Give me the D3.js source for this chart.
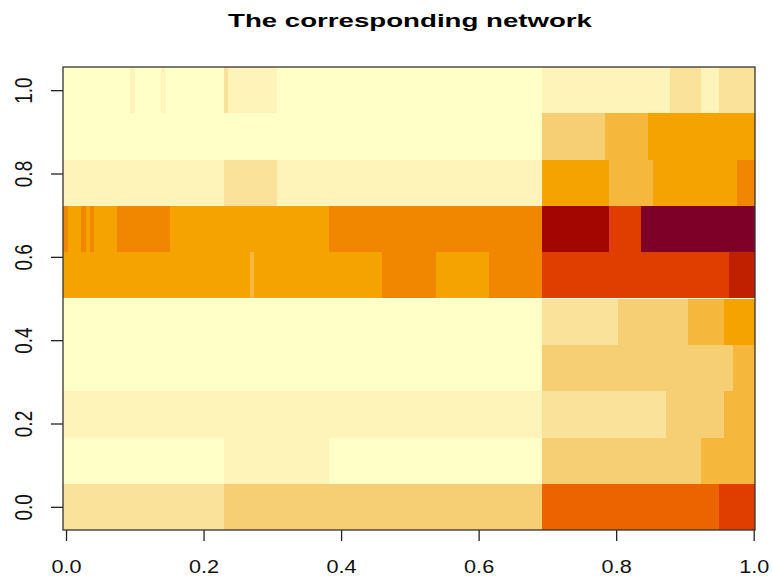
<!DOCTYPE html>
<html>
<head>
<meta charset="utf-8">
<script src="https://cdn.jsdelivr.net/npm/d3@7"></script>
<style>
  body { margin: 0; background: #fff; }
  svg { display: block; }
</style>
</head>
<body>
<div id="chart"></div>
<script>
// image() style heat map, 10 rows, cells given as runs along x

const title = "The corresponding network";

// palette levels, light -> dark
const palette = ["#FFFFC8", "#FEF3B8", "#FAE29A", "#F6CE73", "#F5B83D", "#F4A300",
                 "#F18600", "#EC6400", "#E03E00", "#C02000", "#A30500", "#7E0029"];

// row centres (bottom -> top)
const rowY = [0.000, 0.111, 0.222, 0.333, 0.444, 0.556, 0.667, 0.778, 0.889, 1.000];
const rowHalf = 0.0556;

// run boundaries along x for each row (bottom -> top)
const rowBreaks = [
    [-0.0044, 0.2298, 0.6926, 0.9496, 1.0019],
    [-0.0044, 0.2298, 0.3824, 0.6926, 0.9234, 1.0019],
    [-0.0044, 0.6926, 0.8725, 0.9568, 1.0019],
    [-0.0044, 0.6926, 0.9699, 1.0019],
    [-0.0044, 0.6926, 0.8027, 0.9045, 0.9568, 1.0019],
    [-0.0044, 0.2676, 0.2738, 0.4591, 0.5380, 0.6151, 0.6926, 0.9641, 1.0019],
    [-0.0044, 0.0025, 0.0218, 0.0291, 0.0349, 0.0407, 0.0737, 0.1512, 0.3824, 0.6926, 0.7896, 0.8357, 1.0019],
    [-0.0044, 0.2298, 0.3064, 0.6926, 0.7896, 0.8531, 0.9762, 1.0019],
    [-0.0044, 0.6926, 0.7833, 0.8467, 1.0019],
    [-0.0044, 0.0931, 0.1003, 0.1381, 0.1440, 0.2298, 0.2360, 0.3064, 0.6926, 0.8783, 0.9234, 0.9496, 1.0019]
];

// colour level of each run
const rowLevels = [
    [2, 3, 7, 8],
    [0, 1, 0, 3, 4],
    [1, 2, 3, 4],
    [0, 3, 4],
    [0, 2, 3, 4, 5],
    [5, 4, 5, 6, 5, 6, 8, 9],
    [6, 5, 6, 5, 6, 5, 6, 5, 6, 10, 8, 11],
    [1, 2, 1, 5, 4, 5, 6],
    [0, 3, 4, 5],
    [0, 1, 0, 1, 0, 2, 1, 0, 1, 2, 1, 2]
];

const xTicks = [0.0, 0.2, 0.4, 0.6, 0.8, 1.0];
const yTicks = [0.0, 0.2, 0.4, 0.6, 0.8, 1.0];

const w = 772;
const h = 578;
const plot = { left: 63, right: 755, top: 67, bottom: 530 };
const font = "'Liberation Sans', Arial, Helvetica, sans-serif";

const svg = d3.select("#chart").append("svg")
    .attr("width", w)
    .attr("height", h);

const x = d3.scaleLinear()
    .domain([rowBreaks[0][0], rowBreaks[0][rowBreaks[0].length - 1]])
    .range([plot.left, plot.right]);

const y = d3.scaleLinear()
    .domain([rowY[0] - rowHalf, rowY[rowY.length - 1] + rowHalf])
    .range([plot.bottom, plot.top]);

// flatten runs into cells
const cells = [];
rowBreaks.forEach((b, r) => {
    rowLevels[r].forEach((lev, i) => {
        cells.push({ x0: b[i], x1: b[i + 1], yc: rowY[r], level: lev });
    });
});

svg.append("g")
    .selectAll("rect")
    .data(cells)
    .enter()
    .append("rect")
    .attr("x", d => x(d.x0))
    .attr("y", d => y(d.yc + rowHalf))
    .attr("width", d => x(d.x1) - x(d.x0))
    .attr("height", d => y(d.yc - rowHalf) - y(d.yc + rowHalf))
    .attr("fill", d => palette[d.level])
    .attr("shape-rendering", "crispEdges");

// axes
const xAxis = d3.axisBottom(x)
    .tickValues(xTicks)
    .tickFormat(d3.format(".1f"))
    .tickSize(11)
    .tickSizeOuter(0);

const gx = svg.append("g")
    .attr("transform", `translate(0, ${plot.bottom})`)
    .call(xAxis);

gx.select(".domain").remove();
gx.selectAll(".tick line").attr("stroke", "#222").attr("stroke-width", 1.3);
gx.selectAll(".tick text")
    .attr("y", 43)
    .attr("dy", null)
    .attr("fill", "#111")
    .attr("transform", "scale(1.14, 1)")
    .style("font-family", font)
    .style("font-size", "19px");

const yAxis = d3.axisLeft(y)
    .tickValues(yTicks)
    .tickFormat(d3.format(".1f"))
    .tickSize(12)
    .tickSizeOuter(0);

const gy = svg.append("g")
    .attr("transform", `translate(${plot.left}, 0)`)
    .call(yAxis);

gy.select(".domain").remove();
gy.selectAll(".tick line").attr("stroke", "#222").attr("stroke-width", 1.3);
gy.selectAll(".tick text")
    .attr("x", 0)
    .attr("y", 0)
    .attr("dy", null)
    .attr("text-anchor", "middle")
    .attr("fill", "#111")
    .attr("transform", "translate(-31.3, 0) scale(1.23, 1) rotate(-90)")
    .style("font-family", font)
    .style("font-size", "19px");

// box
svg.append("rect")
    .attr("x", plot.left)
    .attr("y", plot.top)
    .attr("width", plot.right - plot.left)
    .attr("height", plot.bottom - plot.top)
    .attr("fill", "none")
    .attr("stroke", "#333")
    .attr("stroke-width", 1.3);

// title
svg.append("text")
    .attr("x", (plot.left + plot.right) / 2 + 1)
    .attr("y", 27)
    .attr("text-anchor", "middle")
    .attr("textLength", 364)
    .attr("lengthAdjust", "spacingAndGlyphs")
    .style("font-family", font)
    .style("font-weight", "bold")
    .style("font-size", "18px")
    .style("fill", "#000")
    .text(title);
</script>
</body>
</html>
